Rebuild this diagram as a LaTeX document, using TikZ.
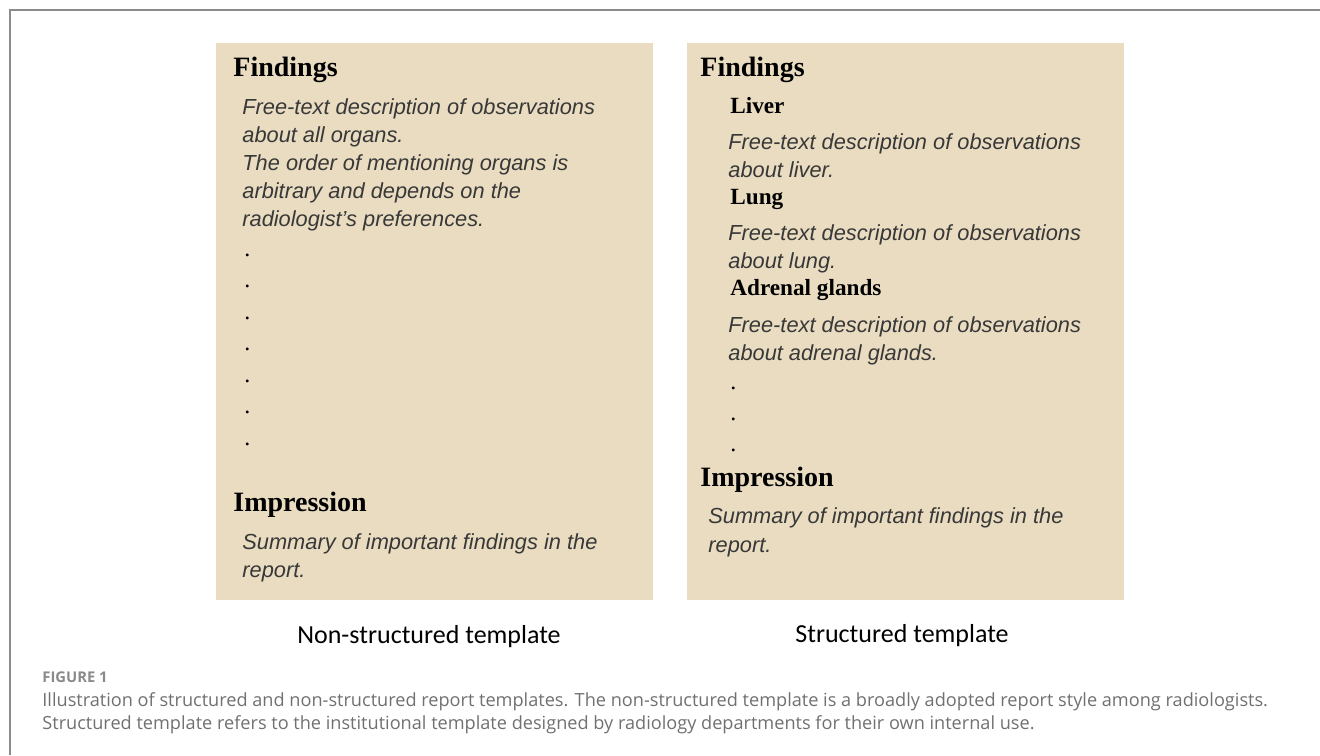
\documentclass[tikz,border=0pt]{standalone}
\usepackage{fontspec}
\setmainfont{Liberation Serif}
\newfontfamily\notefont{Liberation Sans}
\newfontfamily\labelfont{Carlito}
\newfontfamily\capfont{Open Sans}

\definecolor{paper}{HTML}{E9DCC1}
\definecolor{framegray}{HTML}{8C8C8C}
\definecolor{capgray}{HTML}{707070}
\definecolor{figgray}{HTML}{8A8A8A}

\tikzset{
  sheet/.style={fill=paper, draw=none},
  head/.style={anchor=base west, inner sep=0pt, font=\fontsize{14}{16}\selectfont\bfseries},
  organ/.style={anchor=base west, inner sep=0pt, font=\fontsize{11.6}{14}\selectfont\bfseries},
  note/.style={anchor=base west, inner sep=0pt, text=black!78, font=\notefont\itshape\fontsize{10.9}{14}\selectfont},
  dotmark/.style={anchor=base west, inner sep=0pt, font=\fontsize{12}{14}\selectfont},
  tag/.style={anchor=base, inner sep=0pt, font=\labelfont\fontsize{13}{15}\selectfont},
  captext/.style={anchor=base west, inner sep=0pt, text=capgray, font=\capfont\fontsize{9.07}{11}\selectfont},
}

\begin{document}
\begin{tikzpicture}[x=0.5pt, y=-0.5pt]
  \useasboundingbox (0,0) rectangle (1320,755);

  % outer frame (only left and top edges show)
  \draw[framegray, line width=1pt] (10,755) -- (10,10) -- (1320,10);

  % the two template sheets
  \fill[sheet] (216,43) rectangle (653,600);
  \fill[sheet] (687,43) rectangle (1124,600);

  % non-structured sheet
  \node[head] (nfind) at (233,76) {Findings};
  \foreach \txt [count=\i from 0] in {Free-text description of observations,
      about all organs., The order of mentioning organs is,
      arbitrary and depends on the, radiologist’s preferences.}
    \node[note] (nline\i) at (242,114+28*\i) {\txt};
  \foreach \i in {0,...,6}
    \node[dotmark] (ndot\i) at (244,256+31.5*\i) {.};
  \node[head] (nimp) at (233,511) {Impression};
  \node[note] (nsum0) at (242,549) {Summary of important findings in the};
  \node[note] (nsum1) at (242,577) {report.};

  % structured sheet
  \node[head] (sfind) at (700,76) {Findings};
  \node[organ] (liver) at (730,113) {Liver};
  \node[note] (liver0) at (728,149) {Free-text description of observations};
  \node[note] (liver1) at (728,177) {about liver.};
  \node[organ] (lung) at (730,204) {Lung};
  \node[note] (lung0) at (728,240) {Free-text description of observations};
  \node[note] (lung1) at (728,268) {about lung.};
  \node[organ] (adrenal) at (730,295) {Adrenal glands};
  \node[note] (adrenal0) at (728,332) {Free-text description of observations};
  \node[note] (adrenal1) at (728,360) {about adrenal glands.};
  \foreach \i in {0,1,2}
    \node[dotmark] (sdot\i) at (730,389+31*\i) {.};
  \node[head] (simp) at (700,486) {Impression};
  \node[note] (ssum0) at (708,523) {Summary of important findings in the};
  \node[note] (ssum1) at (708,552) {report.};

  % labels under the sheets
  \node[tag] (nlabel) at (429,643) {Non-structured template};
  \node[tag] (slabel) at (902,642) {Structured template};

  % caption
  \node[captext, text=figgray, font=\capfont\bfseries\fontsize{7.4}{9}\selectfont] (fignum) at (42,682) {FIGURE 1};
  \node[captext] (cap0) at (42,706) {Illustration of structured and non-structured report templates. The non-structured template is a broadly adopted report style among radiologists.};
  \node[captext] (cap1) at (42,729) {Structured template refers to the institutional template designed by radiology departments for their own internal use.};
\end{tikzpicture}
\end{document}
